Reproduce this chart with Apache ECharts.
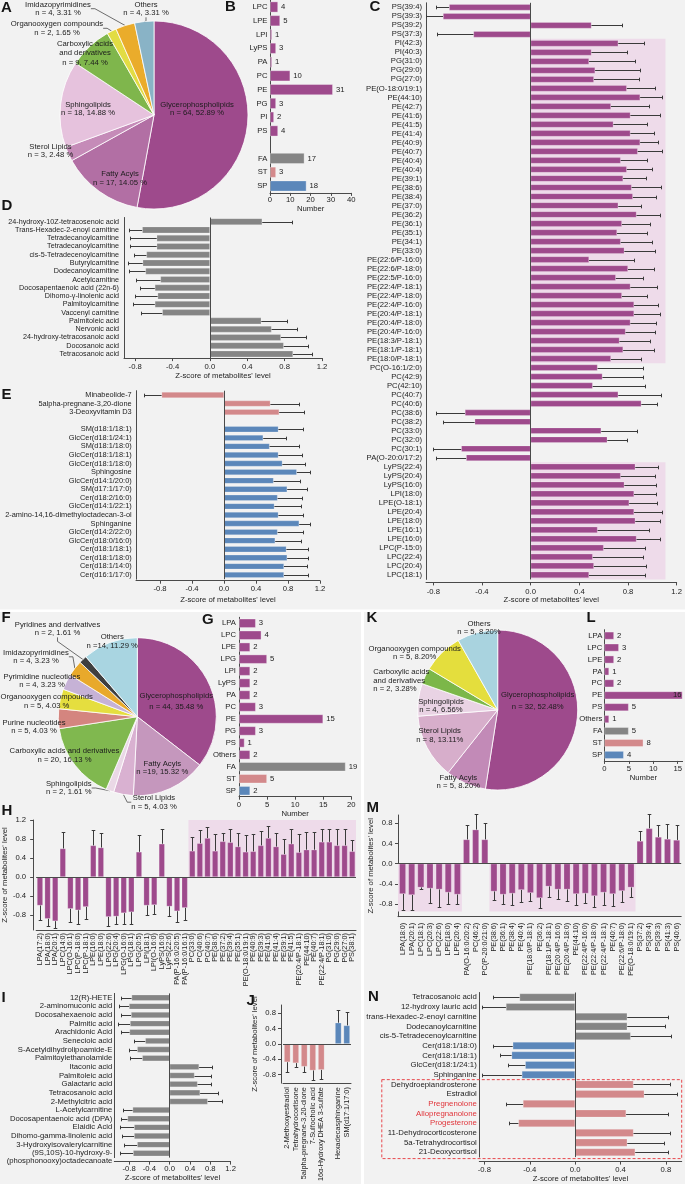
<!DOCTYPE html>
<html><head><meta charset="utf-8">
<script src="https://cdn.jsdelivr.net/npm/echarts@6/dist/echarts.min.js"></script>
<style>html,body{margin:0;padding:0;background:#f2f2f2}#c{width:685px;height:1184px}</style>
</head><body><div id="c"></div>
<script>
// ---------------- DATA ----------------
// Panel A pie
const aCounts = [64, 17, 3, 18, 9, 2, 4, 4];
const aLabels = ['Glycerophospholipids\nn = 64, 52.89 %','Fatty Acyls\nn = 17, 14.05 %','Sterol Lipids\nn = 3, 2.48 %','Sphingolipids\nn = 18, 14.88 %','Carboxylic acids\nand derivatives\nn = 9, 7.44 %','Organooxygen compounds\nn = 2, 1.65 %','Imidazopyrimidines\nn = 4, 3.31 %','Others\nn = 4, 3.31 %'];
// Panel B counts
const bCats = ['LPC','LPE','LPI','LyPS','PA','PC','PE','PG','PI','PS','','FA','ST','SP'];
const bVals = [4, 5, 1, 3, 1, 10, 31, 3, 2, 4, null, 17, 3, 18];
// Panel C
const cCats = ['PS(39:4)','PS(39:3)','PS(39:2)','PS(37:3)','PI(42:3)','PI(40:3)','PG(31:0)','PG(29:0)','PG(27:0)','PE(O-18:0/19:1)','PE(44:10)','PE(42:7)','PE(41:6)','PE(41:5)','PE(41:4)','PE(40:9)','PE(40:7)','PE(40:4)','PE(40:4)','PE(39:1)','PE(38:6)','PE(38:4)','PE(37:0)','PE(36:2)','PE(36:1)','PE(35:1)','PE(34:1)','PE(33:0)','PE(22:6/P-16:0)','PE(22:6/P-18:0)','PE(22:5/P-16:0)','PE(22:4/P-18:1)','PE(22:4/P-18:0)','PE(22:4/P-16:0)','PE(20:4/P-18:1)','PE(20:4/P-18:0)','PE(20:4/P-16:0)','PE(18:3/P-18:1)','PE(18:1/P-18:1)','PE(18:0/P-18:1)','PC(O-16:1/2:0)','PC(42:9)','PC(42:10)','PC(40:7)','PC(40:6)','PC(38:6)','PC(38:2)','PC(33:0)','PC(32:0)','PC(30:1)','PA(O-20:0/17:2)','LyPS(22:4)','LyPS(20:4)','LyPS(16:0)','LPI(18:0)','LPE(O-18:1)','LPE(20:4)','LPE(18:0)','LPE(16:1)','LPE(16:0)','LPC(P-15:0)','LPC(22:4)','LPC(20:4)','LPC(18:1)'];
const cVals = [-0.67,-0.72,0.50,-0.47,0.72,0.50,0.48,0.53,0.52,0.79,0.90,0.66,0.82,0.68,0.82,0.90,0.88,0.74,0.79,0.76,0.83,0.84,0.72,0.87,0.75,0.71,0.74,0.77,0.48,0.80,0.70,0.82,0.75,0.85,0.85,0.82,0.78,0.73,0.76,0.66,0.55,0.59,0.51,0.72,0.91,-0.54,-0.46,0.58,0.63,-0.57,-0.53,0.86,0.74,0.77,0.85,0.81,0.85,0.86,0.55,0.87,0.60,0.51,0.52,0.48];
const cErr = [-0.78,-0.86,0.75,-0.77,0.93,0.79,0.86,0.90,0.89,1.02,1.08,0.97,1.06,0.96,1.01,1.05,1.08,0.96,1.00,0.95,1.07,1.03,0.91,1.06,0.98,0.96,1.00,1.02,0.85,1.01,0.92,1.04,0.96,1.05,1.06,1.03,1.02,0.98,1.01,0.91,0.92,0.92,0.94,1.07,1.04,-0.78,-0.72,0.87,0.79,-0.80,-0.78,1.05,1.02,1.03,1.03,1.04,1.08,1.06,0.97,1.06,0.94,0.92,0.95,0.94];
const cShadeRows = [[4, 39, 0, 1.108], [51, 63, 0, 1.108]];
// Panel D
const dCats = ['24-hydroxy-10Z-tetracosenoic acid','Trans-Hexadec-2-enoyl carnitine','Tetradecanoylcarnitine','Tetradecanoylcarnitine','cis-5-Tetradecenoylcarnitine','Butyrylcarnitine','Dodecanoylcarnitine','Acetylcarnitine','Docosapentaenoic acid (22n-6)','Dihomo-γ-linolenic acid','Palmitoylcarnitine','Vaccenyl carnitine','Palmitoleic acid','Nervonic acid','24-hydroxy-tetracosanoic acid','Docosanoic acid','Tetracosanoic acid'];
const dVals = [0.56,-0.725,-0.57,-0.57,-0.68,-0.72,-0.69,-0.53,-0.59,-0.56,-0.59,-0.51,0.55,0.66,0.76,0.79,0.89];
const dErr = [0.88,-0.87,-0.86,-0.86,-0.81,-0.875,-0.87,-0.79,-0.75,-0.80,-0.82,-0.74,0.82,0.93,1.03,1.05,1.09];
// Panel E
const eCats = ['Minabeolide-7','5alpha-pregnane-3,20-dione','3-Deoxyvitamin D3','','SM(d18:1/18:1)','GlcCer(d18:1/24:1)','SM(d18:1/18:0)','GlcCer(d18:1/18:1)','GlcCer(d18:1/18:0)','Sphingosine','GlcCer(d14:1/20:0)','SM(d17:1/17:0)','Cer(d18:2/16:0)','GlcCer(d14:1/22:1)','2-amino-14,16-dimethyloctadecan-3-ol','Sphinganine','GlcCer(d14:2/22:0)','GlcCer(d18:0/16:0)','Cer(d18:1/18:1)','Cer(d18:1/18:0)','Cer(d18:1/14:0)','Cer(d16:1/17:0)'];
const eVals = [-0.78,0.58,0.69,null,0.68,0.49,0.57,0.68,0.73,0.91,0.62,0.79,0.67,0.63,0.68,0.94,0.67,0.64,0.78,0.79,0.75,0.75];
const eErr = [-1.00,0.94,1.00,null,0.99,0.77,0.94,0.98,1.01,1.08,0.95,1.04,0.98,0.96,0.99,1.07,0.99,0.96,1.05,1.05,1.04,1.05];
const eClass = ['ST','ST','ST','','SP','SP','SP','SP','SP','SP','SP','SP','SP','SP','SP','SP','SP','SP','SP','SP','SP','SP'];
// Panel F pie
const fCounts = [44, 19, 5, 2, 20, 5, 5, 4, 4, 2, 14];
const fLabels = ['Glycerophospholipids\nn = 44, 35.48 %','Fatty Acyls\nn =19, 15.32 %','Sterol Lipids\nn = 5, 4.03 %','Sphingolipids\nn = 2, 1.61 %','Carboxylic acids and derivatives\nn = 20, 16.13 %','Purine nucleotides\nn = 5, 4.03 %','Organooxygen compounds\nn = 5, 4.03 %','Pyrimidine nucleotides\nn = 4, 3.23 %','Imidazopyrimidines\nn = 4, 3.23 %','Pyridines and derivatives\nn = 2, 1.61 %','Others\nn =14, 11.29 %'];
// Panel G counts
const gCats = ['LPA','LPC','LPE','LPG','LPI','LyPS','PA','PC','PE','PG','PS','Others','FA','ST','SP'];
const gVals = [3, 4, 2, 5, 2, 2, 2, 3, 15, 3, 1, 2, 19, 5, 2];
// Panel H
const hCats = ['LPA(17:2)','LPA(18:0)','LPA(20:1)','LPC(14:0)','LPC(O-16:1)','LPC(P-18:0)','LPC(P-18:1)','LPE(16:0)','LPE(18:0)','LPG(22:6)','LPG(20:4)','LPG(O-16:0)','LPG(18:1)','LPG(20:5)','LPI(18:1)','LPI(O-16:0)','LyPS(16:0)','LyPS(22:6)','PA(P-16:0/20:5)','PA(P-16:0/16:1)','PC(33:0)','PC(40:6)','PC(40:7)','PE(38:6)','PE(37:2)','PE(39:4)','PE(35:1)','PE(O-18:0/19:1)','PE(40:9)','PE(39:3)','PE(41:6)','PE(41:4)','PE(39:1)','PE(41:5)','PE(20:4/P-18:1)','PE(44:10)','PE(40:7)','PE(22:4/P-18:1)','PG(31:0)','PG(29:0)','PG(27:0)','PS(38:1)'];
const hVals = [-0.60,-0.88,-0.93,0.60,-0.67,-0.70,-0.63,0.665,0.62,-0.84,-0.83,-0.76,-0.74,0.53,-0.60,-0.59,0.70,-0.62,-0.72,-0.65,0.55,0.71,0.82,0.55,0.75,0.73,0.64,0.53,0.54,0.665,0.82,0.64,0.48,0.70,0.52,0.575,0.575,0.74,0.74,0.665,0.665,0.54];
const hErr = [-0.91,-1.04,-1.07,0.94,-0.95,-0.98,-0.88,0.99,0.93,-1.04,-0.98,-1.00,-0.98,0.89,-0.80,-0.78,1.01,-0.82,-0.95,-0.91,0.85,0.99,1.05,0.91,0.93,1.01,0.93,0.89,0.91,0.96,1.08,0.92,0.80,1.01,0.90,0.95,0.95,1.01,1.01,1.01,1.01,0.77];
const hShadeRows = [[20, 41, 0, 1.2]];
// Panel I
const iCats = ['12(R)-HETE','2-aminomuconic acid','Docosahexaenoic acid','Palmitic acid','Arachidonic Acid','Senecioic acid','S-Acetyldihydrolipoamide-E','Palmitoylethanolamide','Itaconic acid','Palmitoleic acid','Galactaric acid','Tetracosanoic acid','2-Methylcitric acid','L-Acetylcarnitine','Docosapentaenoic acid (DPA)','Elaidic Acid','Dihomo-gamma-linolenic acid','3-Hydroxyisovalerylcarnitine','\n(9S,10S)-10-hydroxy-9-\n(phosphonooxy)octadecanoate'];
const iVals = [-0.75,-0.80,-0.76,-0.78,-0.79,-0.48,-0.64,-0.54,0.58,0.49,0.55,0.60,0.75,-0.73,-0.83,-0.70,-0.70,-0.64,-0.72];
const iErr = [-0.96,-1.00,-0.95,-1.01,-0.95,-0.71,-0.81,-0.79,0.83,0.81,0.82,0.95,1.04,-0.91,-0.95,-0.98,-0.94,-0.89,-0.98];
// Panel J
const jCats = ['2-Methoxyestradiol','Tetrahydrocortisone','5alpha-pregnane-3,20-dione','7-Sulfocholic acid','16α-Hydroxy DHEA 3-sulfate','','Hexadecasphinganine','SM(d17:1/17:0)'];
const jVals = [-0.475,-0.50,-0.59,-0.69,-0.675,null,0.55,0.48];
const jErr = [-0.735,-0.605,-0.73,-0.95,-0.92,null,0.87,0.82];
const jClass = ['ST','ST','ST','ST','ST','','SP','SP'];
// Panel K pie
const kCounts = [32, 5, 8, 4, 2, 5, 5];
const kLabels = ['Glycerophospholipids\nn = 32, 52.48%','Fatty Acyls\nn = 5, 8.20%','Sterol Lipids\nn = 8, 13.11%','Sphingolipids\nn = 4, 6.56%','Carboxylic acids\nand derivatives\nn = 2, 3.28%','Organooxygen compounds\nn = 5, 8.20%','Others\nn = 5, 8.20%'];
// Panel L counts
const lCats = ['LPA','LPC','LPE','PA','PC','PE','PS','Others','FA','ST','SP'];
const lVals = [2, 3, 2, 1, 2, 16, 5, 1, 5, 8, 4];
// Panel M
const mCats = ['LPA(18:0)','LPA(20:1)','LPC(18:1)','LPC(20:3)','LPC(22:6)','LPE(18:0)','LPE(20:4)','PA(O-16:0/20:2)','PC(46:2)','PC(P-20:0/21:0)','PE(38:6)','PE(36:1)','PE(38:4)','PE(40:4)','PE(18:0/P-18:1)','PE(36:2)','PE(18:1/P-18:1)','PE(20:4/P-16:0)','PE(20:4/P-18:0)','PE(44:10)','PE(22:4/P-16:0)','PE(22:4/P-18:0)','PE(22:4/P-18:1)','PE(40:7)','PE(22:6/P-18:0)','PE(O-18:0/19:1)','PS(37:2)','PS(39:4)','PS(39:3)','PS(41:3)','PS(40:6)'];
const mVals = [-0.60,-0.62,-0.47,-0.49,-0.51,-0.57,-0.61,0.48,0.675,0.48,-0.55,-0.61,-0.59,-0.52,-0.58,-0.68,-0.45,-0.51,-0.51,-0.60,-0.59,-0.64,-0.57,-0.60,-0.54,-0.47,0.45,0.70,0.53,0.49,0.47];
const mErr = [-0.91,-0.91,-0.50,-0.78,-0.85,-0.80,-0.80,0.76,0.98,0.81,-0.71,-0.79,-0.81,-0.76,-0.74,-0.88,-0.65,-0.70,-0.73,-0.81,-0.78,-0.86,-0.81,-0.83,-0.75,-0.66,0.64,0.99,0.77,0.79,0.76];
const mShadeRows = [[0, 6, 0, -0.945], [10, 25, 0, -0.945]];
// Panel N
const nCats = ['Tetracosanoic acid','12-hydroxy lauric acid','trans-Hexadec-2-enoyl carnitine','Dodecanoylcarnitine','cis-5-Tetradecenoylcarnitine','Cer(d18:1/18:0)','Cer(d18:1/18:1)','GlcCer(d18:1/24:1)','Sphinganine','Dehydroepiandrosterone','Estradiol','Pregnenolone','Allopregnanolone','Progesterone','11-Dehydrocorticosterone','5a-Tetrahydrocortisol','21-Deoxycortisol'];
const nVals = [-0.49,-0.61,0.46,0.46,0.49,-0.55,-0.56,-0.44,-0.47,0.515,0.61,-0.46,0.45,-0.50,0.515,0.46,0.53];
const nErr = [-0.72,-0.82,0.82,0.79,0.85,-0.72,-0.66,-0.59,-0.82,0.84,0.90,-0.61,0.82,-0.58,0.84,0.78,0.82];
const nClass = ['FA','FA','FA','FA','FA','SP','SP','SP','SP','ST','ST','ST','ST','ST','ST','ST','ST'];
const nRed = ['Pregnenolone','Allopregnanolone','Progesterone'];
const nBoxRows = [[9, 16, 0]];
const zTicks = [-0.8, -0.4, 0, 0.4, 0.8, 1.2];
const zTicks2 = [-0.8, -0.4, 0, 0.4, 0.8];
const zName = "Z-score of metabolites' level";

// ---------------- STYLE ----------------
const FONT = '"Liberation Sans", Arial, Helvetica, sans-serif';
const TXT = '#1c1c1c', AX = '#4a4a4a', ERR = '#3a3a3a';
const COL = {GP:'#9e4a8c', FA:'#858585', ST:'#d3898b', SP:'#5b87ba', '':'#999'};
const SHADE = '#eedbea';
const classOf = c => (c === 'FA' || c === 'ST' || c === 'SP') ? c : 'GP';
const fmt1 = v => (Math.abs(v) < 1e-9 ? 0 : v).toFixed(1);

const option = {
  backgroundColor: '#f2f2f2', animation: false,
  textStyle: {fontFamily: FONT},
  grid: [], xAxis: [], yAxis: [], series: [], graphic: []
};

function shadeH(params, api) {
  const a = api.coord([api.value(2), api.value(0)]), b = api.coord([api.value(3), api.value(1)]);
  const band = api.size([0, 1])[1];
  const y0 = Math.min(a[1], b[1]) - band / 2, y1 = Math.max(a[1], b[1]) + band / 2;
  const x0 = Math.min(a[0], b[0]), x1 = Math.max(a[0], b[0]);
  return {type: 'rect', shape: {x: x0, y: y0, width: x1 - x0, height: y1 - y0}, style: {fill: SHADE}};
}
function shadeV(params, api) {
  const a = api.coord([api.value(0), api.value(2)]), b = api.coord([api.value(1), api.value(3)]);
  const band = api.size([1, 0])[0];
  const x0 = Math.min(a[0], b[0]) - band / 2, x1 = Math.max(a[0], b[0]) + band / 2;
  const y0 = Math.min(a[1], b[1]), y1 = Math.max(a[1], b[1]);
  return {type: 'rect', shape: {x: x0, y: y0, width: x1 - x0, height: y1 - y0}, style: {fill: SHADE}};
}
function errH(params, api) {
  const c = api.value(0);
  const a = api.coord([api.value(1), c]), b = api.coord([api.value(2), c]);
  const y = Math.round(a[1]) + 0.5, bx = Math.round(b[0]) + 0.5;
  return {type: 'group', children: [
    {type: 'line', shape: {x1: a[0], y1: y, x2: bx, y2: y}, style: {stroke: ERR, lineWidth: 1}},
    {type: 'line', shape: {x1: bx, y1: y - 1.8, x2: bx, y2: y + 1.8}, style: {stroke: ERR, lineWidth: 1}}
  ]};
}
function errV(params, api) {
  const c = api.value(0);
  const a = api.coord([c, api.value(1)]), b = api.coord([c, api.value(2)]);
  const x = Math.round(a[0]) + 0.5, by = Math.round(b[1]) + 0.5;
  return {type: 'group', children: [
    {type: 'line', shape: {x1: x, y1: a[1], x2: x, y2: by}, style: {stroke: ERR, lineWidth: 1}},
    {type: 'line', shape: {x1: x - 1.8, y1: by, x2: x + 1.8, y2: by}, style: {stroke: ERR, lineWidth: 1}}
  ]};
}
function barData(vals, cls) {
  return vals.map((v, i) => v == null ? '-' : {value: v, itemStyle: {color: COL[cls[i]]}});
}
function errData(vals, errs) {
  const out = [];
  vals.forEach((v, i) => { if (v != null) out.push([i, v, errs[i]]); });
  return out;
}
const zeroLine = (axis) => ({silent: true, symbol: ['none', 'none'], animation: false, label: {show: false},
  lineStyle: {color: AX, type: 'solid', width: 1}, data: [{[axis]: 0}]});

function hPanel(p) {
  const gi = option.grid.length, xi = option.xAxis.length, yi = option.yAxis.length;
  option.grid.push({left: p.left, top: p.top, width: p.width, height: p.height});
  option.xAxis.push({type: 'value', gridIndex: gi, min: p.min, max: p.max, offset: p.xoff || 0,
    axisLine: {show: true, onZero: false, lineStyle: {color: AX}},
    axisTick: {show: true, length: 3, customValues: p.ticks, lineStyle: {color: AX}},
    axisLabel: {customValues: p.ticks, formatter: fmt1, fontSize: 7.7, color: TXT, margin: p.tmargin},
    splitLine: {show: false},
    name: p.name, nameLocation: 'middle', nameGap: p.ngap, nameTextStyle: {fontSize: 7.7, color: TXT}});
  option.yAxis.push({type: 'category', gridIndex: gi, data: p.cats, inverse: true,
    axisLine: {show: true, onZero: false, lineStyle: {color: AX}}, axisTick: {show: false},
    axisLabel: {interval: 0, fontSize: p.font, color: p.labelColor || TXT, margin: p.lmargin, lineHeight: p.lh || p.font}});
  if (p.shade) option.series.push({type: 'custom', xAxisIndex: xi, yAxisIndex: yi, silent: true, z: 1,
    renderItem: shadeH, encode: {x: [2, 3], y: [0, 1]}, data: p.shade});
  option.series.push({type: 'bar', xAxisIndex: xi, yAxisIndex: yi, z: 2, barCategoryGap: p.gap,
    data: barData(p.vals, p.cls),
    itemStyle: {borderColor: 'rgba(255,255,255,0.35)', borderWidth: 0.6},
    markLine: zeroLine('xAxis')});
  option.series.push({type: 'custom', xAxisIndex: xi, yAxisIndex: yi, silent: true, z: 3,
    renderItem: errH, encode: {x: [1, 2], y: 0}, data: errData(p.vals, p.errs)});
  return {gi, xi, yi};
}
function vPanel(p) {
  const gi = option.grid.length, xi = option.xAxis.length, yi = option.yAxis.length;
  option.grid.push({left: p.left, top: p.top, width: p.width, height: p.height});
  option.xAxis.push({type: 'category', gridIndex: gi, data: p.cats,
    axisLine: {show: true, onZero: false, lineStyle: {color: AX}}, axisTick: {show: false},
    axisLabel: {interval: 0, rotate: 90, fontSize: p.font, color: TXT, margin: p.lmargin}});
  option.yAxis.push({type: 'value', gridIndex: gi, min: p.min, max: p.max, offset: p.yoff || 0,
    axisLine: {show: true, onZero: false, lineStyle: {color: AX}},
    axisTick: {show: true, length: 3, customValues: p.ticks, lineStyle: {color: AX}},
    axisLabel: {customValues: p.ticks, formatter: fmt1, fontSize: 7.7, color: TXT, margin: p.tmargin},
    splitLine: {show: false},
    name: zName, nameLocation: 'middle', nameGap: p.ngap, nameTextStyle: {fontSize: 7.7, color: TXT}});
  if (p.shade) option.series.push({type: 'custom', xAxisIndex: xi, yAxisIndex: yi, silent: true, z: 1,
    renderItem: shadeV, encode: {x: [0, 1], y: [2, 3]}, data: p.shade});
  option.series.push({type: 'bar', xAxisIndex: xi, yAxisIndex: yi, z: 2, barCategoryGap: p.gap,
    data: barData(p.vals, p.cls),
    itemStyle: {borderColor: 'rgba(255,255,255,0.35)', borderWidth: 0.6},
    markLine: zeroLine('yAxis')});
  option.series.push({type: 'custom', xAxisIndex: xi, yAxisIndex: yi, silent: true, z: 3,
    renderItem: errV, encode: {x: 0, y: [1, 2]}, data: errData(p.vals, p.errs)});
  return {gi, xi, yi};
}
function countPanel(p) {
  const gi = option.grid.length, xi = option.xAxis.length, yi = option.yAxis.length;
  option.grid.push({left: p.left, top: p.top, width: p.width, height: p.height});
  option.xAxis.push({type: 'value', gridIndex: gi, min: 0, max: p.max,
    axisLine: {show: true, lineStyle: {color: AX}},
    axisTick: {show: true, length: 3, customValues: p.ticks, lineStyle: {color: AX}},
    axisLabel: {customValues: p.ticks, fontSize: 7.7, color: TXT, margin: p.tmargin},
    splitLine: {show: false},
    name: 'Number', nameLocation: 'middle', nameGap: p.ngap, nameTextStyle: {fontSize: 7.7, color: TXT}});
  option.yAxis.push({type: 'category', gridIndex: gi, data: p.cats, inverse: true,
    axisLine: {show: true, onZero: false, lineStyle: {color: AX}}, axisTick: {show: false},
    axisLabel: {interval: 0, fontSize: 7.7, color: TXT, margin: p.lmargin}});
  option.series.push({type: 'bar', xAxisIndex: xi, yAxisIndex: yi, barCategoryGap: p.gap,
    itemStyle: {borderColor: 'rgba(255,255,255,0.4)', borderWidth: 0.8},
    label: {show: true, position: 'right', distance: 3, fontSize: 7.7, color: TXT},
    data: p.vals.map((v, i) => {
      if (v == null) return '-';
      const d = {value: v, itemStyle: {color: COL[classOf(p.cats[i])]}};
      if (p.insideIdx === i) d.label = {position: 'insideRight', distance: 1};
      return d;
    })});
}
function piePanel(p) {
  option.series.push({type: 'pie', center: p.center, radius: p.r, startAngle: 90, clockwise: true,
    avoidLabelOverlap: false,
    itemStyle: {borderColor: '#ffffff', borderWidth: 0.8},
    label: {show: true, fontSize: 7.7, color: TXT, lineHeight: 8.6, align: 'center',
      formatter: (prm) => p.labels[prm.dataIndex]},
    labelLine: {show: false, length: 4, length2: 4, lineStyle: {color: '#333', width: 0.7}},
    labelLayout: (prm) => {
      const q = p.pos[prm.dataIndex];
      return {x: q[0], y: q[1], align: q[2] || 'center', verticalAlign: 'middle'};
    },
    data: p.counts.map((v, i) => ({value: v, name: 'c' + i,
      itemStyle: {color: p.colors[i]},
      label: p.lh[i] ? {lineHeight: p.lh[i], align: p.pos[i][2] || 'center'} : {align: p.pos[i][2] || 'center'},
      labelLine: {show: !!p.lines[i]}}))});
}

// ---------------- PANELS ----------------
piePanel({center: [154, 115], r: 94, counts: aCounts, labels: aLabels,
  colors: ['#9e4a8c','#b26fa4','#c58bb8','#e6c2dd','#7fb64c','#e2dc43','#eaac2b','#89b3c6'],
  pos: [[197, 109],[120, 178.3],[50.5, 151],[88, 109],[85, 53],[57, 28.3],[58, 8.7],[146, 8.7]],
  lh: [0, 0, 0, 0, 9.5, 0, 0, 0], lines: [0, 0, 0, 0, 0, 1, 1, 1]});
countPanel({left: 270, top: 0.1, width: 81.2, height: 192.8, max: 40, ticks: [0, 10, 20, 30, 40],
  cats: bCats, vals: bVals, gap: '20%', tmargin: 3, ngap: 10, lmargin: 2.5});
hPanel({left: 426, top: 2.8, width: 252, height: 576.6, min: -0.86, max: 1.2, ticks: zTicks, xoff: 3,
  cats: cCats, vals: cVals, errs: cErr, cls: cCats.map(() => 'GP'), font: 7.7, lmargin: 4, gap: '30%',
  tmargin: 5, name: zName, ngap: 13.3, shade: cShadeRows});
hPanel({left: 124, top: 217.5, width: 198, height: 140.6, min: -0.92, max: 1.2, ticks: zTicks,
  cats: dCats, vals: dVals, errs: dErr, cls: dCats.map(() => 'FA'), font: 7.2, lmargin: 5, gap: '20%',
  tmargin: 5, name: zName, ngap: 14});
hPanel({left: 136, top: 390.7, width: 184, height: 188.5, min: -1.1, max: 1.2, ticks: zTicks, xoff: 1.5,
  cats: eCats, vals: eVals, errs: eErr, cls: eClass, font: 7.4, lmargin: 4.3, gap: '30%',
  tmargin: 4.5, name: zName, ngap: 15.3});
piePanel({center: [137.3, 716.7], r: 79, counts: fCounts, labels: fLabels,
  colors: ['#9e4a8c','#c597bd','#d9b1d1','#ead8e6','#80b84f','#d4857f','#e5de3f','#c6b2d6','#e8a92b','#3f3f3f','#a9d5e1'],
  pos: [[176.3, 701.5],[162.3, 767.8],[154, 802.2],[68.8, 788],[64.5, 755.5],[34, 726.7],[46.7, 701.5],[42, 680.7],[36, 656.8],[57.5, 628.8],[112.2, 641.5]],
  lh: [11.6, 0, 0, 0, 0, 0, 0, 7.5, 0, 0, 0], lines: [0, 0, 1, 1, 0, 0, 0, 0, 1, 1, 0]});
countPanel({left: 239, top: 617.3, width: 112.3, height: 179.4, max: 20, ticks: [0, 5, 10, 15, 20],
  cats: gCats, vals: gVals, gap: '22%', tmargin: 4.5, ngap: 10.5, lmargin: 3});
vPanel({left: 31.8, top: 820, width: 324.2, height: 110, min: -1.116, max: 1.2, ticks: zTicks, yoff: 3,
  cats: hCats, vals: hVals, errs: hErr, cls: hCats.map(() => 'GP'), font: 7.3, lmargin: 3, gap: '22%',
  tmargin: 7, ngap: 14, shade: hShadeRows});
hPanel({left: 114.3, top: 993.4, width: 116.3, height: 164.2, min: -1.09, max: 1.2, ticks: zTicks, xoff: 4,
  cats: iCats, vals: iVals, errs: iErr, cls: iCats.map(() => 'FA'), font: 7.7, lh: 7.2, lmargin: 2, gap: '30%',
  tmargin: 3, name: zName, ngap: 12});
vPanel({left: 283, top: 1005, width: 68, height: 78.3, min: -1.02, max: 1.01, ticks: zTicks2, yoff: 2,
  cats: jCats, vals: jVals, errs: jErr, cls: jClass, font: 7.3, lmargin: 4, gap: '25%',
  tmargin: 5, ngap: 13});
piePanel({center: [497.7, 710], r: 80, counts: kCounts, labels: kLabels,
  colors: ['#9e4a8c','#c28ab7','#d7aecb','#e9d3e4','#7cb749','#e4de3d','#a9d3df'],
  pos: [[537.7, 701],[458.3, 781.8],[439.7, 735.5],[441, 706],[373.3, 680.5, 'left'],[414.7, 653],[479, 627.8]],
  lh: [12.3, 0, 0, 0, 8.8, 0, 0], lines: [0, 0, 0, 0, 0, 0, 0]});
countPanel({left: 604.3, top: 629.7, width: 78.3, height: 131.2, max: 16, ticks: [0, 5, 10, 15],
  cats: lCats, vals: lVals, gap: '33%', tmargin: 4, ngap: 11, lmargin: 2, insideIdx: 5});
vPanel({left: 398, top: 815, width: 283.2, height: 101.7, min: -1.05, max: 0.964, ticks: zTicks2,
  cats: mCats, vals: mVals, errs: mErr, cls: mCats.map(() => 'GP'), font: 7.3, lmargin: 6, gap: '27%',
  tmargin: 5.5, ngap: 21, shade: mShadeRows});
const nP = hPanel({left: 479.3, top: 992.5, width: 202.4, height: 164.7, min: -0.845, max: 0.94, ticks: zTicks2, xoff: 4.5,
  cats: nCats, vals: nVals, errs: nErr, cls: nClass, font: 7.8, lmargin: 2.5, gap: '20%',
  tmargin: 4.5, name: zName, ngap: 12.5,
  labelColor: (v) => nRed.indexOf(v) >= 0 ? '#e0343a' : TXT});
option.series.push({type: 'custom', xAxisIndex: nP.xi, yAxisIndex: nP.yi, silent: true, z: 4, clip: false,
  encode: {x: 2, y: [0, 1]}, data: nBoxRows,
  renderItem: (params, api) => {
    const cs = params.coordSys;
    const a = api.coord([0, api.value(0)]), b = api.coord([0, api.value(1)]);
    const band = api.size([0, 1])[1];
    const y0 = a[1] - band / 2, y1 = b[1] + band / 2 + 1.5;
    return {type: 'rect', shape: {x: cs.x - 97.5, y: y0, width: cs.width + 97.5, height: y1 - y0},
      style: {fill: 'none', stroke: '#e8474c', lineWidth: 1, lineDash: [3, 2]}};
  }});

// panel letters and section separators (decoration)
option.graphic.push({type: 'rect', silent: true, z: -10, shape: {x: 0, y: 609.5, width: 685, height: 2.5}, style: {fill: '#ffffff'}});
option.graphic.push({type: 'rect', silent: true, z: -10, shape: {x: 361, y: 612, width: 3, height: 572}, style: {fill: '#ffffff'}});
const letters = [['A', 1, 0.8], ['B', 225, -0.2], ['C', 369.5, -0.2], ['D', 1.5, 198.8], ['E', 1.5, 387.5], ['F', 1.5, 610.8], ['G', 202, 612.5], ['H', 1.5, 803.8], ['I', 1.5, 990.8], ['J', 246.5, 993.8], ['K', 366.5, 610.8], ['L', 586.5, 610.8], ['M', 366.5, 800], ['N', 368, 989]];
letters.forEach(l => option.graphic.push({type: 'text', silent: true, z: 100,
  style: {text: l[0], x: l[1], y: l[2], font: 'bold 15px "Liberation Sans", Arial, sans-serif', fill: '#151515', align: 'left', verticalAlign: 'top'}}));

const chart = echarts.init(document.getElementById('c'), null, {width: 685, height: 1184});
chart.setOption(option);
</script></body></html>
